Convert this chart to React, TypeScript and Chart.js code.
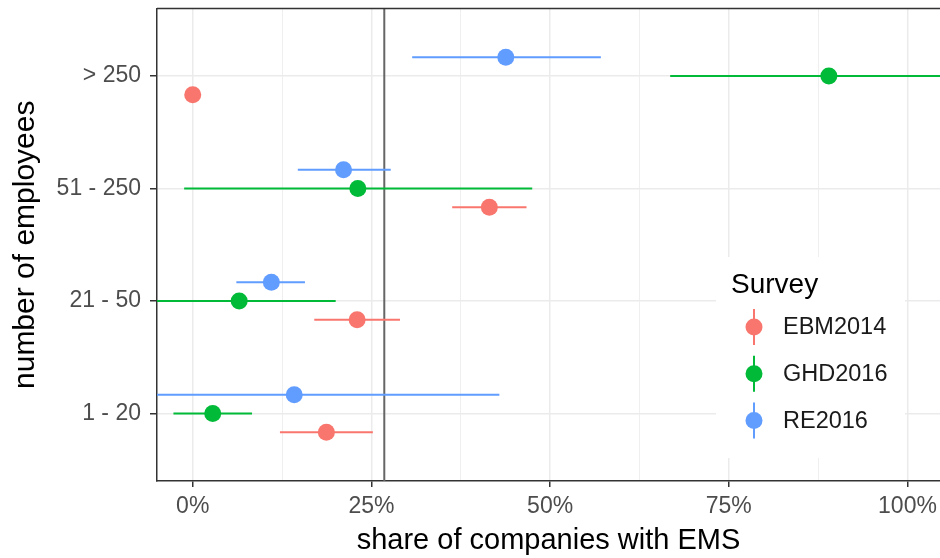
import React, { useEffect, useRef } from "react";
import { Chart, registerables } from "chart.js";

Chart.register(...registerables);

const categories = ["1 - 20", "21 - 50", "51 - 250", "> 250"];
const surveys = ["EBM2014", "GHD2016", "RE2016"];
const colors = ["#F8766D", "#00BA38", "#619CFF"];
const dodge = [-1 / 6, 0, 1 / 6];

const ebmEst = [0.187, 0.23, 0.415, 0.0];
const ebmLo = [0.122, 0.17, 0.363, 0.0];
const ebmHi = [0.252, 0.29, 0.467, 0.0];

const ghdEst = [0.028, 0.065, 0.231, 0.89];
const ghdLo = [-0.027, -0.07, -0.012, 0.668];
const ghdHi = [0.083, 0.2, 0.475, 1.12];

const reEst = [0.142, 0.11, 0.211, 0.438];
const reLo = [-0.15, 0.061, 0.147, 0.307];
const reHi = [0.429, 0.157, 0.277, 0.571];

const xTicks = [0, 0.125, 0.25, 0.375, 0.5, 0.625, 0.75, 0.875, 1.0];
const refLine = 0.268;

const FONT = "'Liberation Sans', Arial, Helvetica, sans-serif";

const est = [ebmEst, ghdEst, reEst];
const lo = [ebmLo, ghdLo, reLo];
const hi = [ebmHi, ghdHi, reHi];

const isMajor = (v: number) => Math.abs(v * 4 - Math.round(v * 4)) < 1e-6;

const errorBarPlugin = {
  id: "errorBars",
  beforeDatasetsDraw(chart: any) {
    const { ctx, chartArea, scales } = chart;
    ctx.save();
    ctx.beginPath();
    ctx.rect(chartArea.left, chartArea.top, chartArea.right - chartArea.left, chartArea.bottom - chartArea.top);
    ctx.clip();
    const rx = scales.x.getPixelForValue(refLine);
    ctx.strokeStyle = "#666666";
    ctx.lineWidth = 2;
    ctx.beginPath();
    ctx.moveTo(rx, chartArea.top);
    ctx.lineTo(rx, chartArea.bottom);
    ctx.stroke();
    chart.data.datasets.forEach((ds: any) => {
      ctx.strokeStyle = ds.backgroundColor;
      ctx.lineWidth = 2;
      ds.data.forEach((p: any) => {
        if (p.lo === p.hi) return;
        const y = scales.y.getPixelForValue(p.y);
        ctx.beginPath();
        ctx.moveTo(scales.x.getPixelForValue(p.lo), y);
        ctx.lineTo(scales.x.getPixelForValue(p.hi), y);
        ctx.stroke();
      });
    });
    ctx.restore();
  },
  afterDraw(chart: any) {
    const { ctx, chartArea } = chart;
    ctx.save();
    ctx.strokeStyle = "#333333";
    ctx.lineWidth = 1.5;
    ctx.beginPath();
    ctx.moveTo(chartArea.left, chartArea.top);
    ctx.lineTo(chartArea.right, chartArea.top);
    ctx.stroke();
    const lx = 716, ly = 257, lw = 189, lh = 201;
    ctx.fillStyle = "#FFFFFF";
    ctx.fillRect(lx, ly, lw, lh);
    ctx.fillStyle = "#000000";
    ctx.font = `28px ${FONT}`;
    ctx.textBaseline = "alphabetic";
    ctx.textAlign = "left";
    ctx.fillText("Survey", 731, 293);
    ctx.font = `23.5px ${FONT}`;
    ctx.textBaseline = "middle";
    surveys.forEach((s, i) => {
      const cy = 327 + i * 46.7;
      const cx = 754;
      ctx.strokeStyle = colors[i];
      ctx.lineWidth = 2;
      ctx.beginPath();
      ctx.moveTo(cx, cy - 18);
      ctx.lineTo(cx, cy + 18);
      ctx.stroke();
      ctx.fillStyle = colors[i];
      ctx.beginPath();
      ctx.arc(cx, cy, 8.5, 0, Math.PI * 2);
      ctx.fill();
      ctx.fillStyle = "#1A1A1A";
      ctx.fillText(s, 783, cy + 1);
    });
    ctx.restore();
  },
};

export default function App() {
  const ref = useRef<HTMLCanvasElement>(null);
  useEffect(() => {
    document.body.style.margin = "0";
    const datasets = surveys.map((s, i) => ({
      label: s,
      data: categories.map((_, j) => ({ x: est[i][j], y: j + 1 + dodge[i], lo: lo[i][j], hi: hi[i][j] })),
      backgroundColor: colors[i],
      borderColor: colors[i],
      borderWidth: 0,
      pointRadius: 8.5,
      pointHoverRadius: 8.5,
    }));
    const chart = new Chart(ref.current as HTMLCanvasElement, {
      type: "scatter",
      data: { datasets },
      plugins: [errorBarPlugin],
      options: {
        animation: false,
        responsive: false,
        devicePixelRatio: 1,
        layout: { autoPadding: false, padding: { top: 8.5, right: 0, bottom: 0, left: 0 } },
        plugins: { legend: { display: false }, tooltip: { enabled: false } },
        scales: {
          x: {
            type: "linear",
            min: -0.05,
            max: 1.0455,
            afterBuildTicks: (scale: any) => {
              scale.ticks = xTicks.map((v) => ({ value: v, major: isMajor(v) }));
            },
            afterFit: (scale: any) => {
              scale.height = 77;
              scale.paddingLeft = 0;
              scale.paddingRight = 0;
            },
            ticks: {
              autoSkip: false,
              maxRotation: 0,
              padding: 6,
              color: "#4D4D4D",
              font: { family: FONT, size: 23 },
              callback: (v: any) => (isMajor(Number(v)) ? `${Math.round(Number(v) * 100)}%` : ""),
            },
            grid: {
              color: "#EBEBEB",
              lineWidth: (c: any) => (isMajor(c.tick.value) ? 1.5 : 0.8),
              tickLength: 6,
              tickColor: (c: any) => (isMajor(c.tick.value) ? "#333333" : "rgba(0,0,0,0)"),
              tickWidth: 1.5,
            },
            border: { display: true, color: "#333333", width: 1.5 },
            title: {
              display: true,
              text: "share of companies with EMS",
              color: "#000000",
              font: { family: FONT, size: 29 },
              padding: { top: 0, bottom: 0 },
            },
          },
          y: {
            type: "linear",
            min: 0.4,
            max: 4.6,
            afterBuildTicks: (scale: any) => {
              scale.ticks = categories.map((_, j) => ({ value: j + 1 }));
            },
            afterFit: (scale: any) => {
              scale.width = 157;
              scale.paddingTop = 0;
              scale.paddingBottom = 0;
            },
            ticks: {
              autoSkip: false,
              padding: 9,
              color: "#4D4D4D",
              font: { family: FONT, size: 23 },
              callback: (v: any) => categories[Math.round(Number(v)) - 1] ?? "",
            },
            grid: {
              color: "#EBEBEB",
              lineWidth: 1.5,
              tickLength: 7,
              tickColor: "#333333",
              tickWidth: 1.5,
            },
            border: { display: true, color: "#333333", width: 1.5 },
            title: {
              display: true,
              text: "number of employees",
              color: "#000000",
              font: { family: FONT, size: 30 },
              padding: { top: 8, bottom: 4 },
            },
          },
        },
      } as any,
    });
    return () => chart.destroy();
  }, []);
  return (
    <div style={{ width: 940, height: 558, background: "#FFFFFF", overflow: "hidden" }}>
      <canvas ref={ref} width={940} height={558} />
    </div>
  );
}
